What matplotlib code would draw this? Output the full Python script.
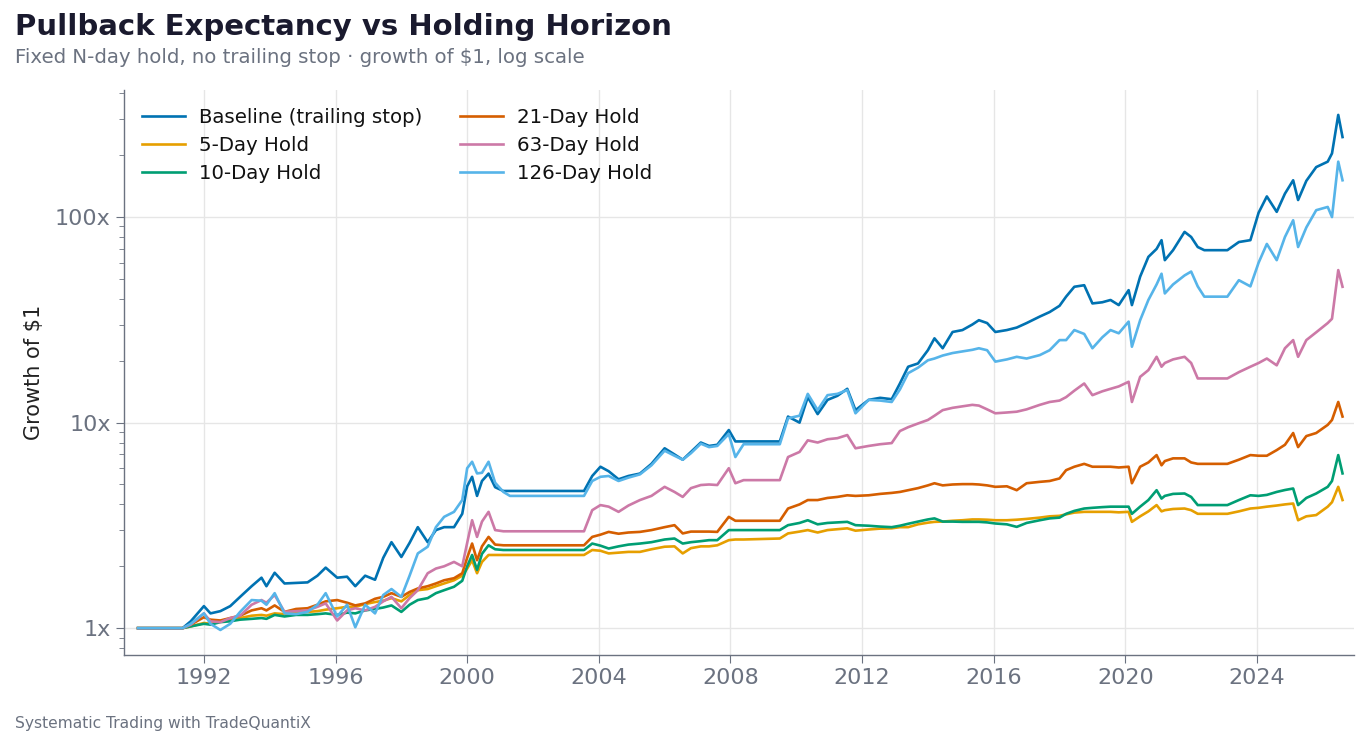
import matplotlib
matplotlib.use("Agg")
import matplotlib.pyplot as plt
from matplotlib.ticker import LogLocator, FuncFormatter, MultipleLocator, NullFormatter

# dates as decimal years, values = growth of $1
dates = [1990.0, 1991.35, 1991.6, 1992.0, 1992.2, 1992.5, 1992.8, 1993.1, 1993.45, 1993.75,
         1993.9, 1994.15, 1994.45, 1994.8, 1995.15, 1995.45, 1995.7, 1996.05, 1996.35, 1996.6,
         1996.9, 1997.2, 1997.45, 1997.7, 1998.0, 1998.25, 1998.5, 1998.8, 1999.05, 1999.3,
         1999.6, 1999.85, 2000.0, 2000.15, 2000.3, 2000.45, 2000.65, 2000.85, 2001.1, 2001.3,
         2003.55, 2003.8, 2004.05, 2004.3, 2004.6, 2004.9, 2005.25, 2005.6, 2006.0, 2006.3,
         2006.55, 2006.8, 2007.1, 2007.35, 2007.6, 2007.95, 2008.15, 2008.4, 2009.5, 2009.75,
         2010.1, 2010.35, 2010.65, 2010.95, 2011.25, 2011.55, 2011.8, 2012.2, 2012.55, 2012.9,
         2013.15, 2013.4, 2013.7, 2014.0, 2014.2, 2014.45, 2014.75, 2015.05, 2015.35, 2015.55,
         2015.8, 2016.05, 2016.4, 2016.7, 2017.0, 2017.4, 2017.7, 2018.0, 2018.2, 2018.45,
         2018.75, 2019.0, 2019.3, 2019.55, 2019.8, 2020.1, 2020.2, 2020.45, 2020.7, 2020.95,
         2021.1, 2021.2, 2021.45, 2021.8, 2022.0, 2022.2, 2022.4, 2023.1, 2023.45, 2023.8,
         2024.05, 2024.3, 2024.6, 2024.85, 2025.1, 2025.25, 2025.5, 2025.8, 2026.15, 2026.28,
         2026.47, 2026.6]

baseline = [1.0, 1.0, 1.08, 1.28, 1.18, 1.21, 1.28, 1.42, 1.6, 1.76,
            1.6, 1.86, 1.65, 1.66, 1.67, 1.8, 1.97, 1.76, 1.78, 1.6,
            1.8, 1.72, 2.2, 2.62, 2.22, 2.6, 3.1, 2.62, 3.0, 3.1,
            3.1, 3.6, 4.9, 5.45, 4.4, 5.2, 5.65, 4.85, 4.65, 4.65,
            4.65, 5.5, 6.1, 5.8, 5.3, 5.5, 5.65, 6.3, 7.5, 7.0,
            6.6, 7.2, 8.0, 7.7, 7.8, 9.2, 8.1, 8.1, 8.1, 10.7,
            10.0, 13.3, 11.0, 12.9, 13.5, 14.6, 11.5, 12.9, 13.2, 13.0,
            15.5, 18.7, 19.4, 22.5, 25.7, 23.0, 27.6, 28.2, 30.0, 31.5,
            30.5, 27.6, 28.2, 29.0, 30.5, 32.8, 34.5, 37.0, 41.0, 45.8,
            46.6, 38.0, 38.5, 39.5, 37.3, 44.1, 37.3, 51.3, 64.0, 70.0,
            77.2, 61.7, 69.0, 84.7, 80.0, 71.5, 69.0, 69.0, 75.6, 77.2,
            105, 126, 106, 130, 151, 121, 150, 175, 186, 204,
            314, 245]

hold_5 = [1.0, 1.0, 1.02, 1.06, 1.05, 1.08, 1.1, 1.12, 1.15, 1.16,
          1.15, 1.18, 1.17, 1.19, 1.2, 1.21, 1.23, 1.25, 1.27, 1.27,
          1.31, 1.34, 1.36, 1.4, 1.35, 1.45, 1.53, 1.55, 1.6, 1.65,
          1.71, 1.8, 1.95, 2.14, 1.85, 2.1, 2.27, 2.27, 2.27, 2.27,
          2.27, 2.4, 2.38, 2.31, 2.33, 2.35, 2.35, 2.42, 2.49, 2.5,
          2.31, 2.45, 2.5, 2.5, 2.53, 2.68, 2.7, 2.7, 2.73, 2.89,
          2.95, 3.0, 2.92, 3.0, 3.03, 3.06, 2.98, 3.02, 3.05, 3.06,
          3.1, 3.1, 3.2, 3.26, 3.29, 3.3, 3.33, 3.35, 3.38, 3.38,
          3.37, 3.35, 3.35, 3.37, 3.4, 3.45, 3.5, 3.52, 3.58, 3.65,
          3.68, 3.68, 3.68, 3.68, 3.66, 3.68, 3.29, 3.5, 3.7, 3.97,
          3.7, 3.75, 3.8, 3.82, 3.75, 3.6, 3.6, 3.6, 3.7, 3.82,
          3.85, 3.9, 3.95, 4.0, 4.04, 3.35, 3.5, 3.55, 3.9, 4.1,
          4.87, 4.2]

hold_10 = [1.0, 1.0, 1.02, 1.05, 1.04, 1.07, 1.08, 1.1, 1.11, 1.12,
           1.11, 1.16, 1.14, 1.16, 1.16, 1.17, 1.18, 1.16, 1.19, 1.18,
           1.22, 1.24, 1.26, 1.29, 1.2, 1.3, 1.37, 1.4, 1.48, 1.53,
           1.59, 1.7, 2.0, 2.27, 1.92, 2.3, 2.53, 2.42, 2.4, 2.4,
           2.4, 2.58, 2.52, 2.44, 2.5, 2.55, 2.58, 2.62, 2.7, 2.73,
           2.58, 2.62, 2.65, 2.68, 2.68, 3.0, 3.0, 3.0, 3.0, 3.17,
           3.25, 3.35, 3.2, 3.25, 3.27, 3.29, 3.17, 3.15, 3.12, 3.1,
           3.15, 3.22, 3.3, 3.38, 3.42, 3.3, 3.3, 3.29, 3.29, 3.29,
           3.27, 3.23, 3.2, 3.11, 3.25, 3.35, 3.42, 3.45, 3.6, 3.72,
           3.82, 3.85, 3.88, 3.9, 3.9, 3.9, 3.6, 3.9, 4.2, 4.69,
           4.27, 4.4, 4.5, 4.52, 4.35, 3.97, 3.97, 3.97, 4.2, 4.43,
           4.4, 4.45, 4.6, 4.7, 4.78, 3.97, 4.3, 4.52, 4.87, 5.2,
           6.95, 5.66]

hold_21 = [1.0, 1.0, 1.04, 1.13, 1.1, 1.09, 1.12, 1.15, 1.22, 1.25,
           1.22, 1.29, 1.2, 1.24, 1.25, 1.3, 1.35, 1.37, 1.33, 1.29,
           1.32, 1.39, 1.42, 1.48, 1.42, 1.5, 1.56, 1.6, 1.65, 1.71,
           1.75, 1.85, 2.2, 2.58, 2.14, 2.5, 2.78, 2.55, 2.53, 2.53,
           2.53, 2.78, 2.85, 2.94, 2.88, 2.92, 2.94, 3.0, 3.1, 3.17,
           2.89, 2.95, 2.95, 2.95, 2.94, 3.48, 3.33, 3.33, 3.33, 3.82,
           4.0, 4.2, 4.2, 4.3, 4.35, 4.43, 4.4, 4.43, 4.5, 4.55,
           4.6, 4.69, 4.8, 4.95, 5.07, 4.95, 5.0, 5.02, 5.02, 5.0,
           4.95, 4.87, 4.9, 4.69, 5.07, 5.15, 5.2, 5.35, 5.87, 6.1,
           6.3, 6.1, 6.1, 6.1, 6.05, 6.1, 5.07, 6.1, 6.4, 6.95,
           6.2, 6.5, 6.7, 6.7, 6.4, 6.3, 6.3, 6.3, 6.6, 6.95,
           6.9, 6.9, 7.35, 7.8, 8.9, 7.6, 8.6, 8.9, 9.75, 10.3,
           12.6, 10.7]

hold_63 = [1.0, 1.0, 1.04, 1.18, 1.08, 1.07, 1.12, 1.15, 1.3, 1.37,
           1.33, 1.45, 1.2, 1.21, 1.22, 1.27, 1.32, 1.09, 1.22, 1.25,
           1.22, 1.27, 1.35, 1.42, 1.25, 1.4, 1.53, 1.85, 1.95, 2.0,
           2.1, 2.0, 2.6, 3.35, 2.78, 3.3, 3.68, 3.0, 2.96, 2.96,
           2.96, 3.75, 3.97, 3.9, 3.68, 3.95, 4.2, 4.4, 4.87, 4.6,
           4.35, 4.8, 4.97, 5.0, 4.97, 6.0, 5.07, 5.25, 5.25, 6.8,
           7.2, 8.2, 8.0, 8.3, 8.4, 8.7, 7.5, 7.7, 7.85, 7.95,
           9.1, 9.5, 9.9, 10.3, 10.8, 11.5, 11.8, 12.0, 12.2, 12.1,
           11.6, 11.1, 11.2, 11.3, 11.6, 12.2, 12.6, 12.8, 13.3, 14.3,
           15.5, 13.6, 14.2, 14.6, 15.0, 15.8, 12.6, 16.7, 18.0, 20.9,
           18.7, 19.5, 20.3, 20.9, 19.5, 16.4, 16.4, 16.4, 17.6, 18.7,
           19.5, 20.5, 19.0, 23.0, 25.2, 20.9, 25.2, 27.5, 30.5, 32.0,
           55.2, 45.8]

hold_126 = [1.0, 1.0, 1.05, 1.18, 1.05, 0.98, 1.05, 1.2, 1.37, 1.36,
            1.3, 1.48, 1.18, 1.17, 1.2, 1.3, 1.48, 1.14, 1.3, 1.01,
            1.3, 1.18, 1.45, 1.55, 1.42, 1.8, 2.31, 2.49, 3.1, 3.48,
            3.68, 4.2, 6.0, 6.45, 5.66, 5.7, 6.45, 5.1, 4.6, 4.4,
            4.4, 5.2, 5.45, 5.5, 5.2, 5.4, 5.6, 6.2, 7.3, 6.9,
            6.6, 7.1, 7.9, 7.6, 7.7, 8.8, 6.8, 7.85, 7.85, 10.5,
            10.8, 13.8, 11.5, 13.6, 13.8, 14.4, 11.1, 12.9, 12.8, 12.6,
            14.5, 17.4, 18.5, 20.1, 20.5, 21.2, 21.8, 22.2, 22.6, 23.0,
            22.5, 19.8, 20.3, 20.9, 20.5, 21.3, 22.5, 25.2, 25.2, 28.2,
            27.0, 23.0, 26.0, 28.2, 27.2, 31.0, 23.4, 31.5, 39.5, 47.0,
            53.0, 42.5, 47.0, 52.0, 54.3, 46.0, 41.0, 41.0, 49.3, 46.0,
            60.0, 74.0, 61.7, 80.0, 96.5, 71.5, 89.0, 108, 112, 100,
            186, 151]

labels = ["Baseline (trailing stop)", "5-Day Hold", "10-Day Hold",
          "21-Day Hold", "63-Day Hold", "126-Day Hold"]
colors = ["#0072B2", "#E69F00", "#009E73", "#D55E00", "#CC79A7", "#56B4E9"]
series = [baseline, hold_5, hold_10, hold_21, hold_63, hold_126]

GRAY = "#6b7280"

fig = plt.figure(figsize=(13.68, 7.47), dpi=100)
ax = fig.add_axes([0.0906, 0.1231, 0.8992, 0.7564])

for vals, lab, col in zip(series, labels, colors):
    ax.plot(dates, vals, color=col, lw=1.9, label=lab)

ax.set_yscale("log")
ax.set_xlim(1989.57, 2026.95)
ax.set_ylim(0.74, 415)
ax.xaxis.set_major_locator(MultipleLocator(4))
ax.xaxis.set_major_formatter(FuncFormatter(lambda v, p: f"{int(round(v))}"))
ax.yaxis.set_major_locator(LogLocator(base=10))
ax.yaxis.set_minor_locator(LogLocator(base=10, subs=range(2, 10)))
ax.yaxis.set_major_formatter(FuncFormatter(lambda v, p: f"{v:g}x"))
ax.yaxis.set_minor_formatter(NullFormatter())

ax.grid(True, which="major", color="#e6e6e6", lw=1.0)
ax.set_axisbelow(True)
for s in ["top", "right"]:
    ax.spines[s].set_visible(False)
for s in ["left", "bottom"]:
    ax.spines[s].set_color(GRAY)
    ax.spines[s].set_linewidth(1.0)
ax.tick_params(axis="both", which="major", colors=GRAY, labelsize=16, length=6)
ax.tick_params(axis="y", which="minor", colors=GRAY, length=3.5)
ax.set_ylabel("Growth of $1", fontsize=15, color="#222222", labelpad=8)

leg = ax.legend(loc="upper left", ncol=2, frameon=False, fontsize=14.2,
                handlelength=2.2, handletextpad=0.7, columnspacing=1.9,
                labelspacing=0.45, bbox_to_anchor=(0.0, 1.0), borderaxespad=0.5)
for t in leg.get_texts():
    t.set_color("#111111")

fig.text(0.011, 0.982, "Pullback Expectancy vs Holding Horizon", fontsize=21,
         fontweight="bold", color="#1a1a2e", va="top", ha="left")
fig.text(0.011, 0.936, "Fixed N-day hold, no trailing stop \u00b7 growth of $1, log scale",
         fontsize=14.2, color=GRAY, va="top", ha="left")
fig.text(0.011, 0.032, "Systematic Trading with TradeQuantiX", fontsize=11.2,
         color=GRAY, va="center", ha="left")

fig.savefig("out.png", dpi=100)
